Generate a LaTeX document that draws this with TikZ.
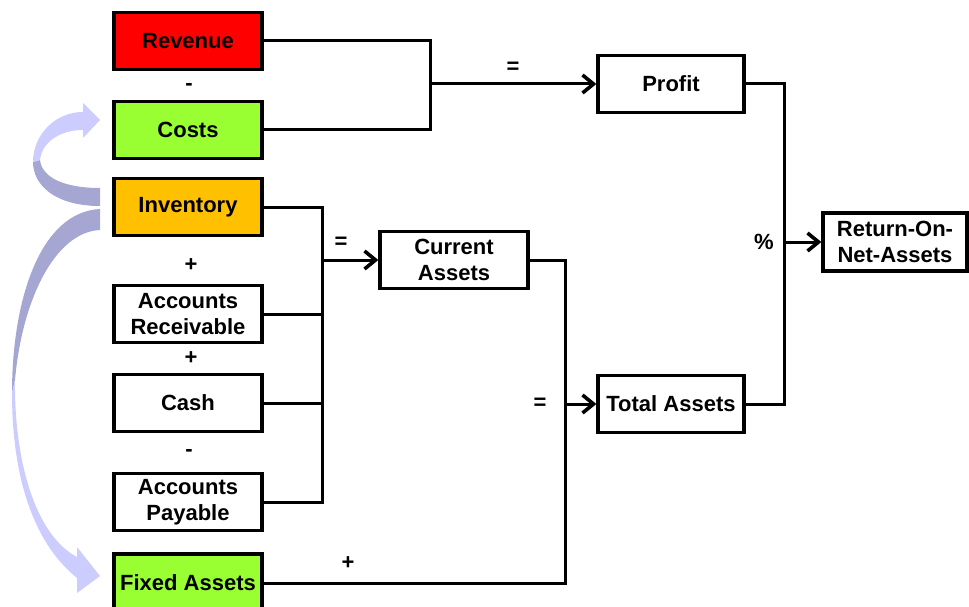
\documentclass[tikz,border=0pt]{standalone}
\usepackage{fontspec}
\setmainfont{Liberation Sans}
\usetikzlibrary{arrows.meta}
\definecolor{revred}{HTML}{FF0000}
\definecolor{costgreen}{HTML}{99FF33}
\definecolor{invorange}{HTML}{FFC000}
\definecolor{lavlight}{HTML}{CCCCFF}
\definecolor{lavdark}{HTML}{A6A6D2}
\tikzset{
  box/.style={draw=black, line width=3.3pt, minimum width=148pt, minimum height=57pt,
    inner sep=0pt, align=center, font=\bfseries\fontsize{22}{26}\selectfont},
  wire/.style={draw=black, line width=3pt},
  arr/.style={wire, -{Straight Barb[length=11pt,width=18pt,line width=3.6pt]}},
  opl/.style={font=\bfseries\fontsize{22}{26}\selectfont, inner sep=0pt},
}
\begin{document}
\begin{tikzpicture}[x=1pt,y=-1pt]
\useasboundingbox (0,0) rectangle (969,607);
\clip (0,0) rectangle (969,607);
% curved arrows
\fill[lavdark] (100,206) .. controls (55,206) and (33,185) .. (33,162) -- (40,160)
  .. controls (42,178) and (65,188) .. (100,188) -- cycle;
\fill[lavlight] (33,162) .. controls (33,135) and (55,112) .. (83,112) -- (83,103) -- (100,120)
  -- (83,138) -- (83,130) .. controls (60,130) and (42,142) .. (40,160) -- cycle;
\fill[lavdark] (100,209) .. controls (40,212) and (12,300) .. (12,393) -- (15,380)
  .. controls (22,300) and (55,232) .. (100,230) -- cycle;
\fill[lavlight] (12,393) .. controls (12,470) and (30,540) .. (77,578) -- (77,593) -- (100,576)
  -- (77,547) -- (77,557) .. controls (35,535) and (14,460) .. (15,380) -- cycle;
% boxes
\node[box, fill=revred] (rev) at (188,41) {Revenue};
\node[box, fill=costgreen] (costs) at (188,130) {Costs};
\node[box, fill=invorange] (inv) at (188,207) {Inventory};
\node[box, fill=white] (ar) at (188,314) {Accounts\\Receivable};
\node[box, fill=white] (cash) at (188,403) {Cash};
\node[box, fill=white] (ap) at (188,502) {Accounts\\Payable};
\node[box, fill=costgreen, minimum height=58pt] (fa) at (188,583) {Fixed Assets};
\node[box, fill=white, minimum width=146pt] (profit) at (671,84) {Profit};
\node[box, fill=white] (ca) at (454,260) {Current\\Assets};
\node[box, fill=white, minimum width=146pt] (ta) at (671,404) {Total Assets};
\node[box, fill=white, minimum width=144pt, minimum height=58pt] (rona) at (895,242) {Return-On-\\Net-Assets};
% junctions
\coordinate (j1) at (430,84);
\coordinate (j2) at (322,260);
\coordinate (j3) at (565,404);
\coordinate (j4) at (784,242);
% connectors
\draw[wire] (rev.east) -| (j1) |- (costs.east);
\draw[arr] (j1) -- (profit.west);
\draw[wire] (inv.east) -| (j2) |- (ap.east);
\draw[wire] (ar.east) -- (ar.east -| j2);
\draw[wire] (cash.east) -- (cash.east -| j2);
\draw[arr] (j2) -- (ca.west);
\draw[wire] (ca.east) -| (j3) |- (fa.east);
\draw[arr] (j3) -- (ta.west);
\draw[wire] (profit.east) -| (j4) |- (ta.east);
\draw[arr] (j4) -- (rona.west);
% operator labels
\node[opl] (m1) at (189,87) {-};
\node[opl] (p1) at (191,265) {+};
\node[opl] (p2) at (191,358) {+};
\node[opl] (m2) at (189,453) {-};
\node[opl] (e1) at (513,68) {=};
\node[opl] (e2) at (341,243) {=};
\node[opl] (e3) at (540,404) {=};
\node[opl] (p3) at (348,563) {+};
\node[opl] (pc) at (764,242) {\%};
\end{tikzpicture}
\end{document}
